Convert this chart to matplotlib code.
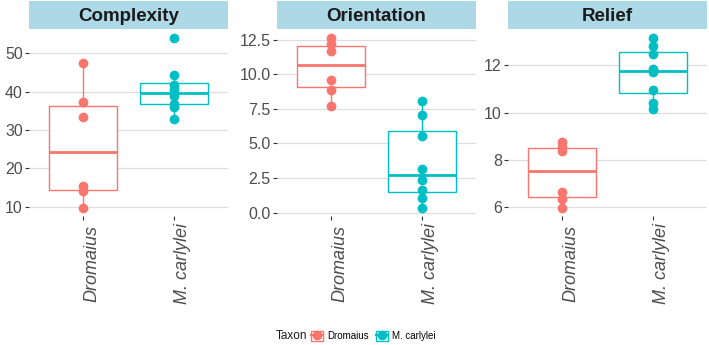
import matplotlib
matplotlib.use("Agg")
import matplotlib.pyplot as plt
from matplotlib.patches import Patch
from matplotlib.lines import Line2D

plt.rcParams["font.family"] = ["Liberation Sans", "DejaVu Sans"]

# data
taxa = ["Dromaius", "M. carlylei"]
panels = ["Complexity", "Orientation", "Relief"]

complexity_dromaius = [9.8, 14.1, 15.3, 33.3, 37.4, 47.4]
complexity_carlylei = [33.0, 36.0, 36.9, 38.8, 40.4, 41.7, 44.4, 53.9]
orientation_dromaius = [7.7, 8.9, 9.6, 11.7, 12.2, 12.6]
orientation_carlylei = [0.36, 1.08, 1.61, 2.33, 3.15, 5.51, 7.04, 8.1]
relief_dromaius = [5.97, 6.33, 6.64, 8.36, 8.55, 8.74]
relief_carlylei = [10.13, 10.41, 10.95, 11.7, 11.85, 12.49, 12.81, 13.14]

complexity_ticks = [10, 20, 30, 40, 50]
orientation_ticks = [0.0, 2.5, 5.0, 7.5, 10.0, 12.5]
relief_ticks = [6, 8, 10, 12]

colors = ["#F8766D", "#00BFC4"]

W, H = 709, 345
fig = plt.figure(figsize=(W / 100, H / 100), dpi=100)

panel_left = [29, 277, 508]
panel_w = 199
panel_top, panel_bottom = 30, 216

data = [
    (complexity_dromaius, complexity_carlylei, complexity_ticks, "{:g}"),
    (orientation_dromaius, orientation_carlylei, orientation_ticks, "{:.1f}"),
    (relief_dromaius, relief_carlylei, relief_ticks, "{:g}"),
]

for i, (name, (d1, d2, ticks, fmt)) in enumerate(zip(panels, data)):
    l = panel_left[i] / W
    ax = fig.add_axes([l, 1 - panel_bottom / H, panel_w / W, (panel_bottom - panel_top) / H])

    for pos, vals, c in zip([1, 2], [d1, d2], colors):
        ax.boxplot([vals], positions=[pos], widths=0.75, showfliers=False,
                   showcaps=False, patch_artist=True,
                   boxprops=dict(facecolor="white", edgecolor=c, linewidth=1.0),
                   whiskerprops=dict(color=c, linewidth=1.0),
                   medianprops=dict(color=c, linewidth=2.0),
                   zorder=2)
        ax.plot([pos] * len(vals), vals, "o", color=c, ms=6, zorder=3)

    lo = min(min(d1), min(d2))
    hi = max(max(d1), max(d2))
    pad = (hi - lo) * 0.05
    ax.set_ylim(lo - pad, hi + pad)
    ax.set_xlim(0.4, 2.6)

    ax.set_yticks(ticks)
    ax.set_yticklabels([fmt.format(t) for t in ticks])
    ax.set_xticks([1, 2])
    ax.set_xticklabels(taxa, rotation=90, style="italic", fontsize=13,
                       va="center", ha="left", color="#4D4D4D")
    ax.tick_params(axis="y", length=3, width=0.8, color="#333333",
                   labelsize=11.5, labelcolor="#4D4D4D", pad=1.5)
    ax.tick_params(axis="x", length=3, width=0.8, color="#333333", pad=31)

    ax.yaxis.grid(True, color="#DEDEDE", linewidth=0.9)
    ax.set_axisbelow(True)
    for s in ax.spines.values():
        s.set_visible(False)

    # facet strip
    sax = fig.add_axes([l, 1 - 29 / H, panel_w / W, 28 / H])
    sax.set_facecolor("#ADD8E6")
    sax.set_xticks([])
    sax.set_yticks([])
    for s in sax.spines.values():
        s.set_visible(False)
    sax.text(0.5, 0.45, name, ha="center", va="center", fontsize=13.5,
             fontweight="bold", color="#1A1A1A", transform=sax.transAxes)

# legend
fig.text(276 / W, 1 - 336 / H, "Taxon", fontsize=8.5, va="center", ha="left",
         color="#1A1A1A")
handles = [
    (Patch(facecolor="white", edgecolor=c, linewidth=1.0),
     Line2D([], [], color=c, marker="o", ms=6, linewidth=1.5))
    for c in colors
]
fig.legend(handles, taxa, ncol=2, loc="center left",
           bbox_to_anchor=(311 / W, 1 - 336 / H), frameon=False, fontsize=7,
           handlelength=1.2, handleheight=1.2, handletextpad=0.5,
           columnspacing=0.7, borderpad=0, borderaxespad=0)

fig.savefig("out.png", dpi=100)
